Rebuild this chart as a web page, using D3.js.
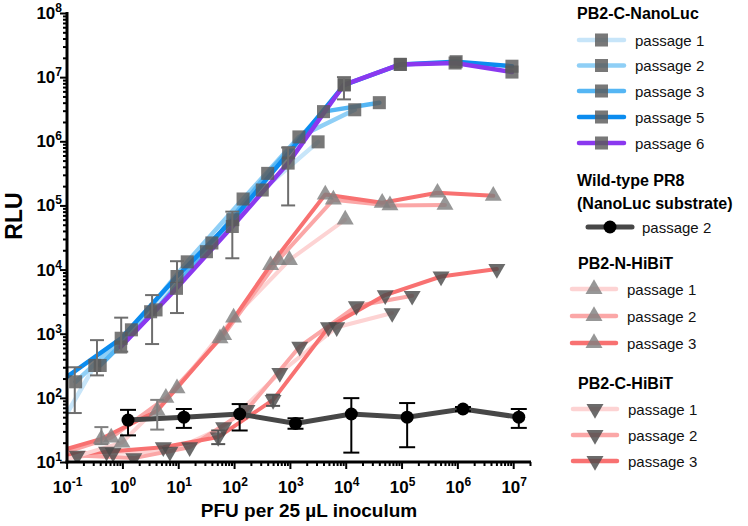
<!DOCTYPE html>
<html>
<head>
<meta charset="utf-8">
<script src="https://cdn.jsdelivr.net/npm/d3@7"></script>
<style>
  body { margin: 0; background: #fff; }
  svg { display: block; font-family: "Liberation Sans", Arial, Helvetica, sans-serif; }
</style>
</head>
<body>
<div id="main"></div>
<script>
// ---- data (x = PFU per inoculum, y = RLU) ----
var ncP1X = [0.032, 0.32, 3.2, 32, 320, 3200];
var ncP1Y = [10, 320, 2200, 19000, 174000, 980000];
var ncP2X = [0.145, 1.45, 14.5, 145, 1450, 14500];
var ncP2Y = [178, 1150, 13200, 126000, 1170000, 3100000];
var ncP3X = [0.4, 4, 40, 400, 4000, 40000];
var ncP3Y = [320, 2350, 26000, 316000, 2900000, 4000000];
var ncP5X = [0.095, 0.95, 9.5, 95, 950, 9500, 95000, 950000, 9500000];
var ncP5Y = [204, 850, 7800, 60000, 660000, 7600000, 15800000, 17400000, 14800000];
var ncP6X = [0.93, 9.3, 93, 930, 9300, 95000, 910000, 9500000];
var ncP6Y = [620, 5100, 47000, 457000, 7600000, 15800000, 16600000, 12000000];

// error bars drawn on the NanoLuc curve
var ncErrX = [0.14, 0.35, 0.95, 3.4, 9.5, 93, 930, 9300];
var ncErrLo = [58, 224, 525, 690, 2100, 15000, 100000, 4500000];
var ncErrHi = [300, 794, 1780, 4000, 13500, 80000, 800000, 10000000];

var wtX = [1.26, 12.6, 126, 1260, 12600, 126000, 1260000, 12600000];
var wtY = [45, 50, 56, 40, 56, 50, 67, 50];
var wtLo = [26, 34, 31, 33, 14, 17, 62, 34];
var wtHi = [65, 67, 80, 48, 99, 83, 72, 67];

var nhP1X = [0.098, 0.98, 9.5, 98, 980, 9800];
var nhP1Y = [11, 20, 141, 1780, 14100, 60000];
var nhP2X = [0.063, 0.63, 6.0, 65, 620, 6000, 62000, 600000];
var nhP2Y = [12.6, 24, 100, 950, 14100, 123000, 100000, 102000];
var nhP3X = [0.045, 0.42, 4.2, 56, 450, 4300, 45000, 440000, 4400000];
var nhP3Y = [13, 23, 63, 850, 11700, 148000, 110000, 158000, 141000];
var nhErrX = [0.42, 4.2];
var nhErrLo = [19, 32];
var nhErrHi = [35, 93];

var chP1X = [0.068, 0.68, 7.1, 65, 660, 6900, 68000];
var chP1Y = [11, 14, 14.5, 35, 245, 1260, 2100];
var chP2X = [0.0155, 0.155, 1.6, 16, 170, 1500, 15500, 155000];
var chP2Y = [12.6, 12.6, 11.5, 17, 65, 630, 2700, 3900];
var chP3X = [0.052, 0.52, 5.4, 52, 500, 4900, 51000, 510000, 5100000];
var chP3Y = [12.6, 14.5, 17, 24.5, 93, 1260, 4000, 7800, 10200];
var chErrX = [52, 500];
var chErrLo = [19, 75];
var chErrHi = [31, 112];

var xTickExp = [-1, 0, 1, 2, 3, 4, 5, 6, 7];
var yTickExp = [1, 2, 3, 4, 5, 6, 7, 8];

var legendGroups = ["PB2-C-NanoLuc", "Wild-type PR8", "PB2-N-HiBiT", "PB2-C-HiBiT"];
var passageNames = ["passage 1", "passage 2", "passage 3", "passage 5", "passage 6"];

// ---- build series ----
function zip(xs, ys) { return xs.map(function (x, i) { return {x: x, y: ys[i]}; }); }

var blues = ["#c7e5f9", "#8fcff6", "#55b6f4", "#0b8cef", "#8a38ef"];
var reds = ["#fdd3d3", "#fba7a7", "#f87171"];

var nanoSeries = [
    {data: zip(ncP1X, ncP1Y), color: blues[0]},
    {data: zip(ncP2X, ncP2Y), color: blues[1]},
    {data: zip(ncP3X, ncP3Y), color: blues[2]},
    {data: zip(ncP5X, ncP5Y), color: blues[3]},
    {data: zip(ncP6X, ncP6Y), color: blues[4]}
];
var nSeries = [
    {data: zip(nhP1X, nhP1Y), color: reds[0]},
    {data: zip(nhP2X, nhP2Y), color: reds[1]},
    {data: zip(nhP3X, nhP3Y), color: reds[2]}
];
var cSeries = [
    {data: zip(chP1X, chP1Y), color: reds[0]},
    {data: zip(chP2X, chP2Y), color: reds[1]},
    {data: zip(chP3X, chP3Y), color: reds[2]}
];

var svg = d3.select("#main").append("svg")
    .attr("width", 748)
    .attr("height", 526);

var x = d3.scaleLog().domain([0.1, 2e7]).range([66.6, 530]);
var y = d3.scaleLog().domain([10, 1e8]).range([462, 13]);

svg.append("clipPath").attr("id", "plotclip")
    .append("rect").attr("x", 67).attr("y", 0).attr("width", 600).attr("height", 462);

var plot = svg.append("g").attr("clip-path", "url(#plotclip)");

var line = d3.line()
    .x(function (d) { return x(d.x); })
    .y(function (d) { return y(d.y); });

function drawLines(series, width) {
    series.forEach(function (s) {
        plot.append("path")
            .attr("d", line(s.data))
            .attr("fill", "none")
            .attr("stroke", s.color)
            .attr("stroke-width", width)
            .attr("stroke-linejoin", "round")
            .attr("stroke-linecap", "round");
    });
}

drawLines(cSeries, 4);
drawLines(nSeries, 4);

// wild-type line
plot.append("path")
    .attr("d", line(zip(wtX, wtY)))
    .attr("fill", "none")
    .attr("stroke", "#474747")
    .attr("stroke-width", 5);

drawLines(nanoSeries, 4.5);

// markers
var sqSym = d3.symbol().type(d3.symbolSquare).size(170);
var triSym = d3.symbol().type(d3.symbolTriangle).size(125);

function visible(d) { return d.x >= 0.1; }

function drawMarkers(series, sym, fill, rot) {
    series.forEach(function (s) {
        plot.append("g").selectAll("path")
            .data(s.data.filter(visible))
            .enter().append("path")
            .attr("d", sym)
            .attr("transform", function (d) {
                return "translate(" + x(d.x) + "," + y(d.y) + ")" + (rot ? " rotate(180)" : "");
            })
            .attr("fill", fill)
            .attr("fill-opacity", 0.82);
    });
}

function drawErr(xs, lo, hi, color, cap, w) {
    var g = plot.append("g").attr("stroke", color).attr("stroke-width", w);
    xs.forEach(function (v, i) {
        var cx = x(v);
        g.append("line").attr("x1", cx).attr("x2", cx).attr("y1", y(lo[i])).attr("y2", y(hi[i]));
        g.append("line").attr("x1", cx - cap).attr("x2", cx + cap).attr("y1", y(lo[i])).attr("y2", y(lo[i]));
        g.append("line").attr("x1", cx - cap).attr("x2", cx + cap).attr("y1", y(hi[i])).attr("y2", y(hi[i]));
    });
}

drawMarkers(cSeries, triSym, "#4a4a4a", true);
drawMarkers(nSeries, triSym, "#808080", false);
drawErr(nhErrX, nhErrLo, nhErrHi, "#808080", 7, 2);
drawErr(chErrX, chErrLo, chErrHi, "#555", 7, 2);
drawMarkers(nanoSeries, sqSym, "#5a5a5a", false);
drawErr(ncErrX, ncErrLo, ncErrHi, "#6e6e6e", 7, 2);

// wild type points
drawErr(wtX, wtLo, wtHi, "#000", 8, 2);
plot.append("g").selectAll("circle")
    .data(zip(wtX, wtY))
    .enter().append("circle")
    .attr("cx", function (d) { return x(d.x); })
    .attr("cy", function (d) { return y(d.y); })
    .attr("r", 6.5)
    .attr("fill", "#000");

// ---- axes ----
var yMinor = [], xMinor = [];
yTickExp.forEach(function (e) {
    if (e < 8) for (var k = 2; k <= 9; k++) yMinor.push(k * Math.pow(10, e));
});
xTickExp.forEach(function (e) {
    for (var k = 2; k <= 9; k++) { var v = k * Math.pow(10, e); if (v <= 2e7) xMinor.push(v); }
});

var yAxis = svg.append("g").attr("transform", "translate(67,0)");
yAxis.call(d3.axisLeft(y).tickValues(yMinor).tickSize(4).tickFormat(""));
yAxis.append("g").call(d3.axisLeft(y).tickValues(yTickExp.map(function (e) { return Math.pow(10, e); }))
    .tickSize(7).tickFormat(""));
yAxis.selectAll("line").attr("stroke", "#000").attr("stroke-width", 2);
yAxis.selectAll(".domain").remove();

var xAxis = svg.append("g").attr("transform", "translate(0,462)");
xAxis.call(d3.axisBottom(x).tickValues(xMinor).tickSize(4).tickFormat(""));
xAxis.append("g").call(d3.axisBottom(x).tickValues(xTickExp.map(function (e) { return Math.pow(10, e); }))
    .tickSize(7).tickFormat(""));
xAxis.selectAll("line").attr("stroke", "#000").attr("stroke-width", 2);
xAxis.selectAll(".domain").remove();

svg.append("line").attr("x1", 67).attr("x2", 67).attr("y1", 12).attr("y2", 463.5)
    .attr("stroke", "#000").attr("stroke-width", 3);
svg.append("line").attr("x1", 65.5).attr("x2", 531).attr("y1", 462).attr("y2", 462)
    .attr("stroke", "#000").attr("stroke-width", 3);

function powLabel(g, e, px, py, anchor) {
    var t = g.append("text")
        .attr("x", px).attr("y", py)
        .attr("text-anchor", anchor)
        .attr("font-weight", "bold")
        .attr("font-size", 17)
        .attr("fill", "#000");
    t.append("tspan").text("10");
    t.append("tspan").attr("dy", -7).attr("font-size", 12).text(String(e));
}

yTickExp.forEach(function (e) {
    powLabel(svg, e, 62, y(Math.pow(10, e)) + 6, "end");
});
xTickExp.forEach(function (e) {
    powLabel(svg, e, x(Math.pow(10, e)) + 1, 493, "middle");
});

svg.append("text")
    .attr("transform", "translate(22,216) rotate(-90)")
    .attr("text-anchor", "middle")
    .attr("font-weight", "bold")
    .attr("font-size", 23)
    .text("RLU");

svg.append("text")
    .attr("x", 309).attr("y", 517)
    .attr("text-anchor", "middle")
    .attr("font-weight", "bold")
    .attr("font-size", 19)
    .text("PFU per 25 \u00b5L inoculum");

// ---- legend ----
var leg = svg.append("g");

function legTitle(txt, tx, ty) {
    leg.append("text").attr("x", tx).attr("y", ty)
        .attr("font-weight", "bold").attr("font-size", 16).text(txt);
}

function legEntry(ty, x0, x1, color, w, markerFn, label, tx) {
    leg.append("line").attr("x1", x0).attr("x2", x1).attr("y1", ty).attr("y2", ty)
        .attr("stroke", color).attr("stroke-width", w).attr("stroke-linecap", "round");
    markerFn((x0 + x1) / 2, ty);
    leg.append("text").attr("x", tx).attr("y", ty + 5.5)
        .attr("font-size", 15).attr("fill", "#111").text(label);
}

function sqMark(cx, cy) {
    leg.append("path").attr("d", sqSym).attr("transform", "translate(" + cx + "," + cy + ")")
        .attr("fill", "#5a5a5a").attr("fill-opacity", 0.82);
}
function upMark(cx, cy) {
    leg.append("path").attr("d", triSym).attr("transform", "translate(" + cx + "," + cy + ")")
        .attr("fill", "#808080").attr("fill-opacity", 0.82);
}
function downMark(cx, cy) {
    leg.append("path").attr("d", triSym).attr("transform", "translate(" + cx + "," + cy + ") rotate(180)")
        .attr("fill", "#4a4a4a").attr("fill-opacity", 0.82);
}
function dotMark(cx, cy) {
    leg.append("circle").attr("cx", cx).attr("cy", cy).attr("r", 6.5).attr("fill", "#000");
}

legTitle(legendGroups[0], 577, 19);
var nanoRows = [40, 65.5, 91, 117, 143];
nanoRows.forEach(function (ry, i) {
    legEntry(ry, 579, 624, blues[i], 4.5, sqMark, passageNames[i], 635);
});

legTitle(legendGroups[1], 577, 186);
legTitle("(NanoLuc substrate)", 577, 209);
legEntry(227, 588, 632, "#474747", 5, dotMark, "passage 2", 642);

legTitle(legendGroups[2], 578, 269);
[289, 316, 343].forEach(function (ry, i) {
    legEntry(ry, 572, 616, reds[i], 4.5, upMark, passageNames[i], 627);
});

legTitle(legendGroups[3], 578, 389);
[409, 435, 461].forEach(function (ry, i) {
    legEntry(ry, 573, 617, reds[i], 4.5, downMark, passageNames[i], 628);
});
</script>
</body>
</html>
